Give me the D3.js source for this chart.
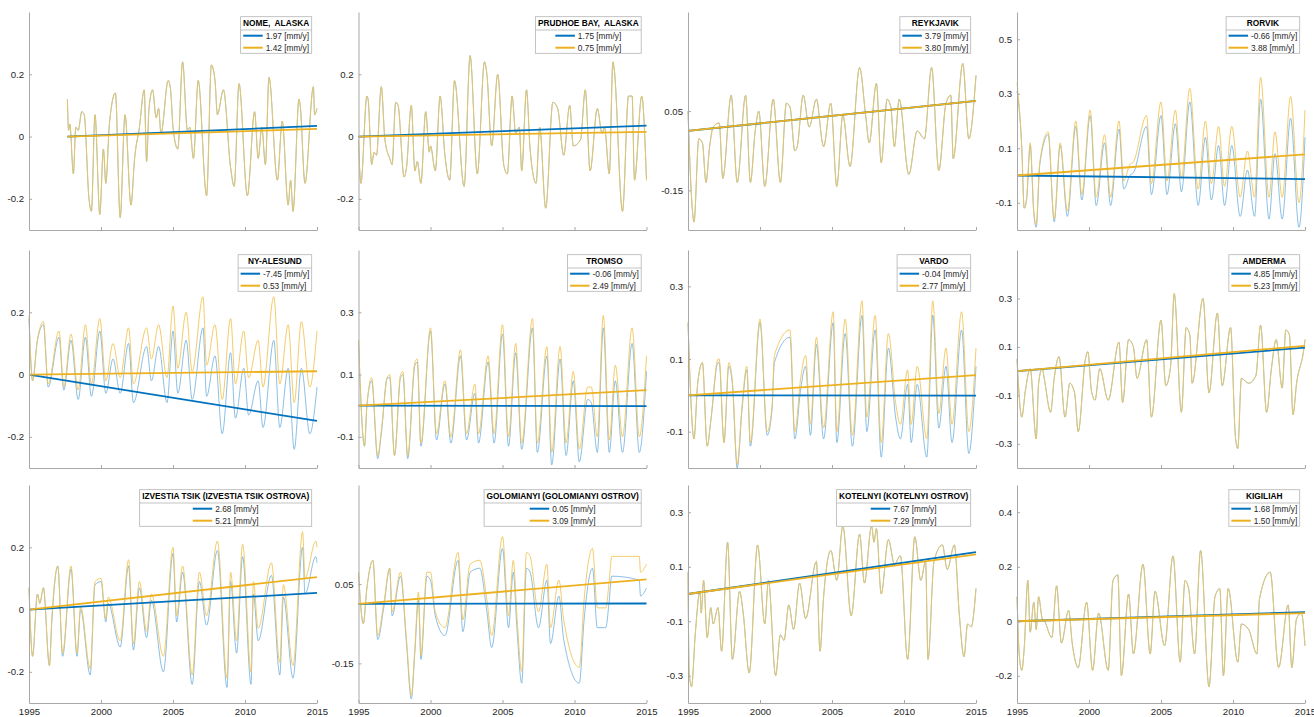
<!DOCTYPE html>
<html>
<head>
<meta charset="utf-8">
<script src="https://cdn.jsdelivr.net/npm/d3@7"></script>
<style>
    body { margin: 0; background: #fff; }
    text { font-family: "Liberation Sans", Arial, Helvetica, sans-serif; }
</style>
</head>
<body>
<svg id="chart" width="1314" height="717"></svg>
<script>
// Station names (legend titles) and trend rates [blue, orange] in mm/y
const stationNames = [
    "NOME,  ALASKA", "PRUDHOE BAY,  ALASKA", "REYKJAVIK", "RORVIK",
    "NY-ALESUND", "TROMSO", "VARDO", "AMDERMA",
    "IZVESTIA TSIK (IZVESTIA TSIK OSTROVA)", "GOLOMIANYI (GOLOMIANYI OSTROV)", "KOTELNYI (KOTELNYI OSTROV)", "KIGILIAH"
];
const trendRates = [
    [1.97, 1.42], [1.75, 0.75], [3.79, 3.80], [-0.66, 3.88],
    [-7.45, 0.53], [-0.06, 2.49], [-0.04, 2.77], [4.85, 5.23],
    [2.68, 5.21], [0.05, 3.09], [7.67, 7.29], [1.68, 1.50]
];
const yDomains = [
    [-0.3, 0.4], [-0.3, 0.4], [-0.25, 0.3], [-0.2, 0.6],
    [-0.3, 0.4], [-0.2, 0.5], [-0.2, 0.4], [-0.4, 0.5],
    [-0.3, 0.4], [-0.25, 0.3], [-0.4, 0.4], [-0.3, 0.5]
];
const yTickValues = [
    [-0.2, 0, 0.2], [-0.2, 0, 0.2], [-0.15, 0.05], [-0.1, 0.1, 0.3, 0.5],
    [-0.2, 0, 0.2], [-0.1, 0.1, 0.3], [-0.1, 0.1, 0.3], [-0.3, -0.1, 0.1, 0.3],
    [-0.2, 0, 0.2], [-0.15, 0.05], [-0.3, -0.1, 0.1, 0.3], [-0.2, 0, 0.2, 0.4]
];
const yearTicks = [1995, 2000, 2005, 2010, 2015];

// Series: month index since Jan 1995, values in cm
const nomeMonths = [32,33,34,37,39,41,44,46,50,52,55,59,62,64,67,72,76,80,85,88,92,96,98,100,103,106,108,110,116,118,120,124,128,132,134,137,141,148,152,155,157,162,168,171,175,182,188,191,194,197,200,207,211,216,218,220,225,226,230,237,238,240];
const nomeSea = [12,2,4,-12,3,2,8,7,-20,-24,7,-25,-4,-15,4,14,-26,7,-22,-7,3,15,-8,9,15,6,9,1,18,15,3,-4,24,2,3,-7,18,-19,23,18,7,15,-10,-16,17,-19,8,-7,3,-9,19,-14,5,-22,-14,-24,12,10,-15,16,7,9];

const prudhoeMonths = [0,2,7,8,11,13,15,19,22,26,28,31,33,38,40,44,47,49,52,56,59,60,64,68,72,76,80,88,93,99,105,107,111,116,121,124,128,131,134,136,140,143,148,151,156,162,166,171,176,179,185,189,193,199,203,205,209,212,213,220,225,228,230,236,240];
const prudhoeSea = [-1,-15,13,12,-9,-5,-6,16,-1,-7,-9,11,10,-13,-10,10,-11,-8,-15,8,-5,-3,-11,13,-6,-14,18,-16,26,-12,24,20,-3,20,-9,-12,13,1,3,-11,15,-4,-15,3,-23,11,9,-6,10,-3,-1,15,-11,9,1,3,-12,24,22,-24,13,13,-14,13,-14];

const reykjavikMonths = [0,3,5,9,12,15,18,21,26,29,36,41,48,52,56,59,64,71,77,82,85,89,91,96,101,107,112,113,119,124,129,135,143,148,151,157,161,166,169,172,176,184,191,197,203,209,215,219,221,229,234,240];
const reykjavikSea = [5,-17,-23,-2,-3,-13,-4,1,2,-12,9,-13,9,-13,0,5,-14,8,-13,7,6,-5,-4,9,1,8,-3,-4,7,-14,4,-9,16,4,-3,12,-8,8,6,-4,8,-11,0,-2,16,-10,7,9,-7,17,-2,14];

const rorvikMonths = [0,4,6,8,11,14,16,19,26,31,36,42,49,54,61,66,73,78,85,89,94,97,108,112,120,125,132,137,144,151,157,162,168,173,179,186,192,198,203,210,215,221,228,235,240];
const rorvikBlue = [31,10,-12,-9,11,-14,-19,4,15,-17,11,-15,18,-9,22,-11,12,-11,17,-5,0,1,18,-7,22,-7,19,-6,27,-11,14,-9,11,-11,11,-15,2,-15,28,-16,8,-16,21,-19,14];
const rorvikOrange = [34,10,-12,-8,12,-13,-18,5,16,-16,12,-13,20,-7,24,-8,15,-8,20,-2,4,5,22,-3,27,-2,24,-1,32,-5,20,-3,18,-4,18,-8,9,-8,36,-8,16,-8,29,-10,24];

const nyAlesundMonths = [0,3,7,12,16,25,29,35,41,47,52,59,64,70,76,83,87,98,102,108,115,120,124,131,136,145,148,155,161,168,172,179,183,191,195,204,209,216,221,227,234,240];
const nyAlesundBlue = [18,-2,11,16,-4,12,-5,11,-8,12,-7,14,-6,5,-6,10,-9,9,-2,9,-9,14,-6,11,-8,15,-7,6,-19,7,-14,2,-13,-2,-17,11,-17,2,-24,2,-19,-4];
const nyAlesundOrange = [19,-2,11,17,-3,14,-4,13,-5,16,-3,18,-2,10,-1,15,-3,15,5,16,-1,22,2,20,1,25,3,16,-8,18,-3,14,-1,11,-4,25,-3,16,-9,17,-4,14];

const tromsoMonths = [0,5,7,11,16,19,24,26,30,35,37,41,47,49,52,60,65,72,77,85,90,97,100,108,113,120,125,131,136,145,149,157,161,168,173,179,184,191,194,199,204,209,214,220,228,234,240];
const tromsoBlue = [21,-13,0,8,-17,-9,9,9,-16,9,10,-17,13,14,-13,24,-11,7,-12,16,-11,4,-12,14,-12,23,-13,17,-14,25,-15,16,-19,15,-16,8,-18,2,1,-15,25,-15,8,-15,20,-15,11];
const tromsoOrange = [21,-13,0,9,-16,-8,9,10,-16,10,11,-16,14,15,-12,25,-9,8,-10,18,-9,7,-9,16,-9,26,-10,20,-12,28,-12,19,-15,19,-12,11,-14,6,6,-10,29,-11,13,-10,25,-10,16];

const vardoMonths = [0,5,8,12,16,19,25,26,30,34,37,41,45,49,52,60,66,70,72,85,89,94,98,102,107,113,121,124,131,137,145,149,156,161,167,173,177,183,186,191,199,204,209,215,220,228,234,240];
const vardoBlue = [20,-12,3,9,-14,-7,9,9,-13,8,3,-20,-4,7,-14,20,-11,-4,9,16,-12,2,8,-11,14,-12,20,-13,17,-14,22,-10,18,-17,13,-6,-12,3,-13,3,-17,22,-9,8,-13,18,-16,8];
const vardoOrange = [20,-12,3,9,-14,-7,10,10,-13,9,4,-19,-3,8,-13,21,-10,-3,11,18,-10,5,11,-8,16,-9,23,-10,21,-11,26,-6,22,-13,17,-2,-8,7,-8,8,-12,26,-5,13,-8,23,-10,13];

const amdermaMonths = [0,4,7,11,16,18,21,23,28,31,35,40,44,48,51,57,59,62,65,69,76,85,88,93,97,100,108,112,120,124,128,131,137,141,144,146,155,160,167,171,178,182,184,187,193,199,203,208,212,216,221,224,227,230,233,239,240];
const amdermaSea = [5,-19,-8,1,-28,-5,1,-4,-17,-3,6,-19,-5,-9,-25,5,8,-8,-12,1,-12,12,-13,13,10,-3,13,-19,21,-6,2,32,-17,18,15,-5,30,-9,24,-6,18,-27,-32,-3,-5,-2,19,-17,1,13,-7,17,15,-18,-5,9,13];

const izvestiaMonths = [0,3,7,9,12,17,19,24,28,35,40,43,51,55,60,64,66,76,83,87,92,98,102,112,120,123,128,136,142,148,157,165,168,173,178,185,187,191,202,209,212,220,228,230,239,240];
const izvestiaBlue = [7,-15,5,2,7,-18,-4,14,-15,13,-15,0,-21,8,9,-4,2,-12,14,-13,7,-9,3,-20,18,-4,12,-24,9,-5,19,-25,9,-14,17,-24,5,-10,11,-21,4,-22,20,5,17,15];
const izvestiaOrange = [7,-15,5,2,7,-18,-3,14,-14,14,-14,1,-19,9,10,-3,4,-10,16,-11,9,-7,5,-15,20,-2,14,-21,12,-2,22,-22,12,-10,21,-20,9,-6,15,-17,8,-18,25,10,22,20];

const golomianyiMonths = [0,4,7,12,16,21,26,28,35,40,44,47,50,52,57,60,64,72,83,87,93,101,107,111,120,125,129,132,136,140,143,150,157,160,167,171,184,188,195,199,206,209,211,234,235,240];
const golomianyiBlue = [8,-5,4,11,-9,-1,9,-3,7,-10,-24,-12,1,-14,7,6,-3,-8,11,-7,8,9,-2,-11,14,-6,8,-6,-20,9,8,-6,6,-10,2,-9,-20,-4,9,-6,-6,1,7,6,2,4];
const golomianyiOrange = [8,-5,4,11,-8,0,9,-2,8,-9,-23,-11,3,-13,8,8,-2,-6,13,-4,10,11,1,-8,17,-3,11,-3,-17,13,12,-2,10,-6,6,-4,-16,1,14,-1,-1,6,12,12,8,10];

const kotelnyiMonths = [0,1,3,6,10,11,13,16,19,21,25,28,33,37,43,46,51,58,64,67,73,77,80,84,88,93,98,107,110,113,119,124,129,136,143,147,153,155,157,161,167,172,177,183,189,194,198,200,205,212,216,222,226,230,233,236,240];
const kotelnyiSea = [8,-29,-34,-15,1,-7,5,-16,-5,-11,-5,-21,19,-24,1,-7,-29,18,-11,5,-30,-15,-17,-4,-13,4,-9,12,-21,-1,16,5,25,-8,22,4,25,19,24,0,20,11,14,-24,21,5,12,-24,12,18,9,18,-7,-23,-11,-12,2];

const kigiliahMonths = [0,2,4,6,9,11,14,16,18,21,23,29,33,37,43,46,51,58,63,68,76,80,84,87,93,97,105,111,115,123,130,136,140,143,148,153,160,165,169,172,176,184,187,193,200,202,211,218,226,229,233,237,240];
const kigiliahSea = [9,-13,-18,-10,15,-4,7,-3,9,1,0,-6,13,-8,4,-8,-17,7,-18,3,-18,15,17,-20,10,-12,21,-12,11,-9,24,-15,15,12,-12,26,-24,9,12,-20,12,-15,-1,-3,-12,8,18,-17,6,-17,1,3,-9];

// Blue and orange series per panel (blue hidden under orange where they coincide)
const panelSeries = [
    [nomeMonths, nomeSea, nomeSea],
    [prudhoeMonths, prudhoeSea, prudhoeSea],
    [reykjavikMonths, reykjavikSea, reykjavikSea],
    [rorvikMonths, rorvikBlue, rorvikOrange],
    [nyAlesundMonths, nyAlesundBlue, nyAlesundOrange],
    [tromsoMonths, tromsoBlue, tromsoOrange],
    [vardoMonths, vardoBlue, vardoOrange],
    [amdermaMonths, amdermaSea, amdermaSea],
    [izvestiaMonths, izvestiaBlue, izvestiaOrange],
    [golomianyiMonths, golomianyiBlue, golomianyiOrange],
    [kotelnyiMonths, kotelnyiSea, kotelnyiSea],
    [kigiliahMonths, kigiliahSea, kigiliahSea]
];

// Layout
const colX = [29, 358.5, 688, 1017];
const rowY = [12, 250, 485];
const plotW = 288, plotH = 218;
const blue = "#0072BD", orange = "#EDB120";
const thinBlue = "#5aa3d9", thinOrange = "#f1c55a";
const axisColor = "#a8a8a8", labelColor = "#262626";

const svg = d3.select("#chart");

function styleAxis(sel) {
    sel.attr("font-family", null).attr("font-size", 9.6);
    sel.select(".domain").attr("stroke", axisColor);
    sel.selectAll(".tick line").attr("stroke", axisColor);
    sel.selectAll(".tick text").attr("fill", labelColor);
}

function addLegend(g, name, rates) {
    const fs = 8.3;
    const lg = g.append("g");
    const box = lg.append("rect").attr("fill", "#fff").attr("stroke", "#b4b4b4").attr("stroke-width", 0.8);
    const title = lg.append("text")
        .attr("font-size", fs).attr("font-weight", "bold").attr("fill", "#000")
        .attr("text-anchor", "middle").style("white-space", "pre")
        .text(name);
    const labels = rates.map(r => lg.append("text")
        .attr("font-size", fs).attr("fill", labelColor)
        .text(r.toFixed(2) + " [mm/y]"));

    const titleW = title.node().getComputedTextLength();
    const textW = d3.max(labels, l => l.node().getComputedTextLength());
    const itemW = 25 + textW + 2.5;
    const w = Math.max(titleW + 5, itemW);
    const h = 36.6;
    const x0 = plotW - 5.3 - w, y0 = 4.7;

    box.attr("x", x0).attr("y", y0).attr("width", w).attr("height", h);
    lg.append("line").attr("x1", x0).attr("x2", x0 + w).attr("y1", y0 + 13.3).attr("y2", y0 + 13.3)
        .attr("stroke", "#b4b4b4").attr("stroke-width", 0.8);
    title.attr("x", x0 + w / 2).attr("y", y0 + 9.6);

    const ix = x0 + (w - itemW) / 2;
    labels.forEach((l, k) => {
        const cy = y0 + 19 + 12 * k;
        lg.append("line").attr("x1", ix + 2.5).attr("x2", ix + 22).attr("y1", cy).attr("y2", cy)
            .attr("stroke", k ? orange : blue).attr("stroke-width", 2);
        l.attr("x", ix + 25).attr("y", cy + 3);
    });
}

panelSeries.forEach(([months, blueVals, orangeVals], i) => {
    const col = i % 4, row = Math.floor(i / 4);
    const g = svg.append("g").attr("transform", `translate(${colX[col]},${rowY[row]})`);

    const x = d3.scaleLinear().domain([1995, 2015]).range([0, plotW]);
    const y = d3.scaleLinear().domain(yDomains[i]).range([plotH, 0]);
    const xm = m => x(1995 + m / 12);

    const line = vals => d3.line()
        .curve(d3.curveMonotoneX)
        .x((d, k) => xm(months[k]))
        .y(d => y(d / 100))(vals);

    // thin monthly series, orange drawn over blue
    g.append("path").attr("d", line(blueVals))
        .attr("fill", "none").attr("stroke", thinBlue).attr("stroke-width", 0.7);
    g.append("path").attr("d", line(orangeVals))
        .attr("fill", "none").attr("stroke", thinOrange).attr("stroke-width", 0.9);

    // linear trends, starting at zero at first sample
    const m0 = months[0], m1 = months[months.length - 1];
    trendRates[i].forEach((r, k) => {
        g.append("line")
            .attr("x1", xm(m0)).attr("y1", y(0))
            .attr("x2", xm(m1)).attr("y2", y(r / 1000 * (m1 - m0) / 12))
            .attr("stroke", k ? orange : blue).attr("stroke-width", 1.8);
    });

    // axes
    const yAxis = d3.axisLeft(y).tickValues(yTickValues[i]).tickSize(-3).tickSizeOuter(0).tickPadding(5)
        .tickFormat(d => String(d));
    g.append("g").call(yAxis).call(styleAxis);

    const xAxis = d3.axisBottom(x).tickValues(yearTicks).tickSize(-3).tickSizeOuter(0).tickPadding(5)
        .tickFormat(row === 2 ? d3.format("d") : () => "");
    g.append("g").attr("transform", `translate(0,${plotH})`).call(xAxis).call(styleAxis);

    addLegend(g, stationNames[i], trendRates[i]);
});
</script>
</body>
</html>
